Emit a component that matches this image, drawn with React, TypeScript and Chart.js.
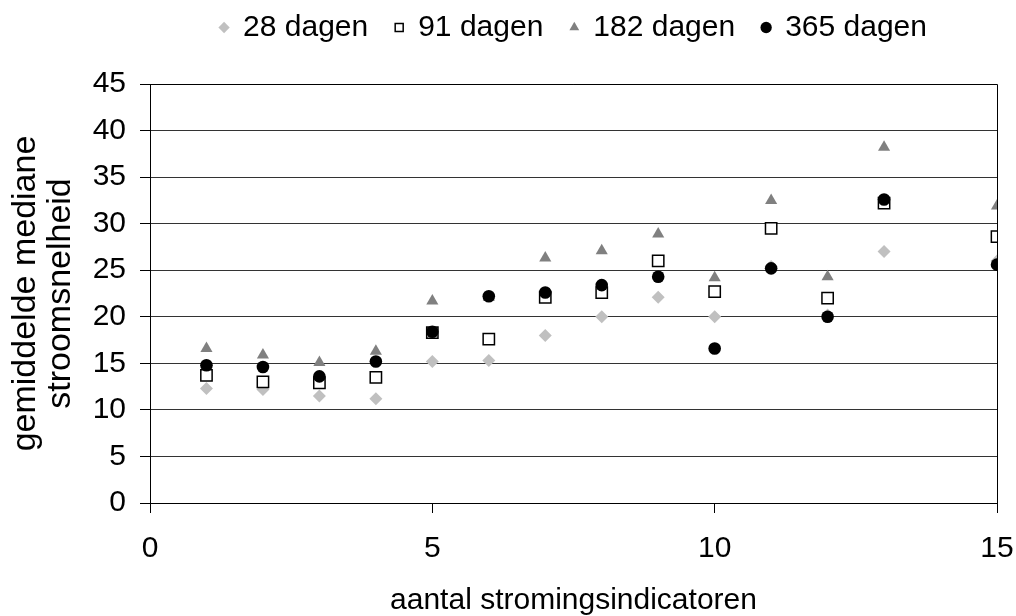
import React, { useEffect, useRef } from 'react';
import { Chart, registerables } from 'chart.js';

Chart.register(...registerables);

const xValues = [1, 2, 3, 4, 5, 6, 7, 8, 9, 10, 11, 12, 13, 15];
const days28 = [12.3, 12.2, 11.5, 11.2, 15.2, 15.3, 18.0, 20.0, 22.1, 20.0, 25.4, 20.2, 27.0, 26.0];
const days91 = [13.7, 13.0, 12.9, 13.5, 18.3, 17.6, 22.1, 22.6, 26.0, 22.7, 29.5, 22.0, 32.2, 28.6];
const days182 = [16.6, 15.9, 15.1, 16.3, 21.7, 22.1, 26.3, 27.1, 28.9, 24.2, 32.5, 24.3, 38.2, 31.9];
const days365 = [14.8, 14.6, 13.6, 15.2, 18.4, 22.2, 22.6, 23.4, 24.3, 16.6, 25.2, 20.0, 32.6, 25.6];
const seriesLabels = ['28 dagen', '91 dagen', '182 dagen', '365 dagen'];
const yTitle = ['gemiddelde mediane', 'stroomsnelheid'];
const xTitle = 'aantal stromingsindicatoren';

const FONT = "'Liberation Sans', Arial, sans-serif";

export default function App() {
  const ref = useRef<HTMLCanvasElement>(null);

  useEffect(() => {
    if (!ref.current) return;
    const toPts = (ys: number[]) => xValues.map((x, i) => ({ x, y: ys[i] }));

    const frame = {
      id: 'frame',
      beforeDatasetsDraw(chart: any) {
        const { ctx, chartArea: a } = chart;
        ctx.save();
        ctx.strokeStyle = '#000';
        ctx.lineWidth = 1;
        const top = Math.round(a.top - 0.5) + 0.5;
        const right = Math.round(a.right - 0.5) + 0.5;
        ctx.beginPath();
        ctx.moveTo(a.left, top);
        ctx.lineTo(right, top);
        ctx.lineTo(right, a.bottom);
        ctx.stroke();
        ctx.restore();
      },
    };

    const legendSpace = {
      id: 'legendSpace',
      beforeLayout(chart: any) {
        const lg = chart.legend;
        if (lg && !lg.__patched) {
          const orig = lg.fit.bind(lg);
          lg.fit = function () {
            orig();
            this.height += 31.5;
          };
          lg.__patched = true;
        }
      },
    };

    const chart = new Chart(ref.current, {
      type: 'scatter',
      data: {
        datasets: [
          {
            label: seriesLabels[0],
            data: toPts(days28),
            pointStyle: 'rectRot',
            pointRadius: 6.5,
            pointHoverRadius: 6.5,
            backgroundColor: '#C0C0C0',
            borderColor: '#C0C0C0',
            borderWidth: 0,
            order: 3,
          },
          {
            label: seriesLabels[1],
            data: toPts(days91),
            pointStyle: 'rect',
            pointRadius: 8,
            pointHoverRadius: 8,
            backgroundColor: '#FFFFFF',
            borderColor: '#000000',
            borderWidth: 1.5,
            order: 2,
          },
          {
            label: seriesLabels[2],
            data: toPts(days182),
            pointStyle: 'triangle',
            pointRadius: 7,
            pointHoverRadius: 7,
            backgroundColor: '#808080',
            borderColor: '#808080',
            borderWidth: 0,
            order: 1,
          },
          {
            label: seriesLabels[3],
            data: toPts(days365),
            pointStyle: 'circle',
            pointRadius: 6.3,
            pointHoverRadius: 6.3,
            backgroundColor: '#000000',
            borderColor: '#000000',
            borderWidth: 0,
            order: 0,
          },
        ],
      },
      options: {
        responsive: false,
        animation: false,
        devicePixelRatio: 1,
        layout: { padding: { top: -14.5, left: 0, right: 19, bottom: 0 } },
        plugins: {
          tooltip: { enabled: false },
          legend: {
            display: true,
            position: 'top',
            fullSize: false,
            labels: {
              usePointStyle: true,
              boxWidth: 8,
              boxHeight: 8,
              padding: 27,
              color: '#000',
              font: { family: FONT, size: 30 },
              sort: (a: any, b: any) => a.datasetIndex - b.datasetIndex,
            },
          },
        },
        scales: {
          x: {
            type: 'linear',
            min: 0,
            max: 15,
            afterFit: (s: any) => {
              s.height = 113;
              s.paddingLeft = 0;
              s.paddingRight = 0;
            },
            ticks: {
              stepSize: 5,
              color: '#000',
              padding: 18,
              font: { family: FONT, size: 30 },
              maxRotation: 0,
            },
            grid: {
              drawOnChartArea: false,
              drawTicks: true,
              tickLength: 10,
              color: '#000',
              tickColor: '#000',
            },
            border: { display: true, color: '#000', width: 1 },
            title: {
              display: true,
              text: xTitle,
              color: '#000',
              font: { family: FONT, size: 30, lineHeight: 1 },
              padding: { top: 0, bottom: 0 },
            },
          },
          y: {
            type: 'linear',
            min: 0,
            max: 45,
            afterFit: (s: any) => {
              s.width = 150;
            },
            ticks: {
              stepSize: 5,
              color: '#000',
              padding: 14,
              font: { family: FONT, size: 30 },
            },
            grid: {
              color: '#333',
              tickColor: '#000',
              tickLength: 10,
              lineWidth: 1,
            },
            border: { display: true, color: '#000', width: 1 },
            title: {
              display: true,
              text: yTitle,
              color: '#000',
              font: { family: FONT, size: 34, lineHeight: 1.03 },
              padding: { top: 8, bottom: 0 },
            },
          },
        },
      },
      plugins: [frame, legendSpace],
    } as any);

    return () => chart.destroy();
  }, []);

  return (
    <div style={{ position: 'fixed', left: 0, top: 0, width: 1016, height: 616, background: '#fff' }}>
      <canvas ref={ref} width={1016} height={616} style={{ display: 'block' }} />
    </div>
  );
}
